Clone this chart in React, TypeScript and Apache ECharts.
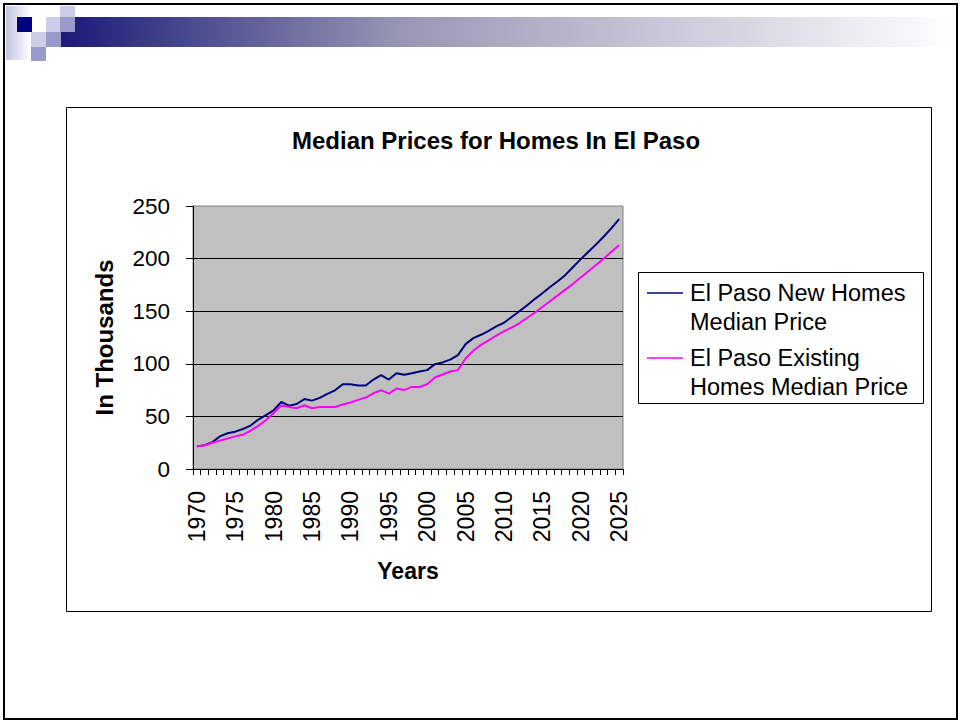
import React, { useEffect, useRef } from "react";
import * as echarts from "echarts";

const years = [
  "1970", "1971", "1972", "1973", "1974", "1975", "1976", "1977", "1978", "1979",
  "1980", "1981", "1982", "1983", "1984", "1985", "1986", "1987", "1988", "1989",
  "1990", "1991", "1992", "1993", "1994", "1995", "1996", "1997", "1998", "1999",
  "2000", "2001", "2002", "2003", "2004", "2005", "2006", "2007", "2008", "2009",
  "2010", "2011", "2012", "2013", "2014", "2015", "2016", "2017", "2018", "2019",
  "2020", "2021", "2022", "2023", "2024", "2025",
];

const newHomes = [
  21.5, 22.7, 25.4, 31, 34, 35.5, 38, 41.3, 47, 51.3,
  55.8, 63.7, 60.2, 61.8, 66.5, 65, 67.6, 71.4, 74.8, 80.6,
  80.6, 79.4, 79.4, 85, 89.2, 85, 91, 89.5, 91, 92.7,
  94, 99.7, 101.3, 104, 108.3, 118.7, 124.4, 127.6, 131.4, 135.6,
  139, 144.5, 150, 155.5, 161.5, 167, 173, 178.5, 184.5, 192,
  199.5, 206.5, 213.5, 221, 229, 237.5,
];

const existingHomes = [
  21.5, 22.4, 25, 27, 29, 31, 32.5, 36.5, 41, 46.3,
  53.3, 60.3, 59, 57.8, 60.6, 57.8, 59, 59, 59, 61.3,
  63.2, 65.7, 67.9, 72, 75, 71.7, 76.5, 75, 78, 78,
  80.6, 87, 89.8, 92.7, 94, 105, 112.4, 118, 122.2, 126.7,
  130.8, 134.5, 138.5, 143.5, 148.5, 154, 159.5, 165, 170.5, 176,
  182, 188, 194, 200, 206.5, 213,
];

const seriesNames = ["El Paso New Homes Median Price", "El Paso Existing Homes Median Price"];
const legendTexts = ["El Paso New Homes\nMedian Price", "El Paso Existing\nHomes Median Price"];
const seriesColors = ["#000080", "#FF00FF"];

const titleText = "Median Prices for Homes In El Paso";
const yAxisName = "In Thousands";
const xAxisName = "Years";
const yMin = 0;
const yMax = 250;
const yStep = 50;

const FONT = "'Liberation Sans', Arial, sans-serif";

export default function App() {
  const ref = useRef<HTMLDivElement>(null);

  useEffect(() => {
    if (!ref.current) return;
    const chart = echarts.init(ref.current, null, { renderer: "svg" });

    const light = "#CCCCE6";
    const medium = "#9999CC";

    const graphic: any[] = [
      {
        type: "rect",
        silent: true,
        shape: { x: 4, y: 4, width: 953, height: 715 },
        style: { fill: "none", stroke: "#000", lineWidth: 2 },
        z: 10,
      },
      {
        type: "rect",
        silent: true,
        shape: { x: 6, y: 6, width: 25, height: 54 },
        style: {
          fill: new echarts.graphic.LinearGradient(0, 0, 1, 0, [
            { offset: 0, color: "#C4C4E2" },
            { offset: 1, color: "#FFFFFF" },
          ]),
        },
      },
      {
        type: "rect",
        silent: true,
        shape: { x: 61, y: 17, width: 895, height: 30 },
        style: {
          fill: new echarts.graphic.LinearGradient(0, 0, 1, 0, [
            { offset: 0, color: "#1A1A78" },
            { offset: 0.38, color: "#9797B5" },
            { offset: 1, color: "#FFFFFF" },
          ]),
        },
      },
      { type: "rect", silent: true, shape: { x: 17, y: 17, width: 15, height: 15 }, style: { fill: "#000080" } },
      { type: "rect", silent: true, shape: { x: 46, y: 17, width: 15, height: 15 }, style: { fill: light } },
      { type: "rect", silent: true, shape: { x: 60, y: 6, width: 15, height: 11 }, style: { fill: light } },
      { type: "rect", silent: true, shape: { x: 60, y: 17, width: 15, height: 15 }, style: { fill: medium } },
      { type: "rect", silent: true, shape: { x: 31, y: 32, width: 15, height: 15 }, style: { fill: light } },
      { type: "rect", silent: true, shape: { x: 46, y: 32, width: 15, height: 15 }, style: { fill: medium } },
      { type: "rect", silent: true, shape: { x: 31, y: 47, width: 15, height: 14 }, style: { fill: medium } },
      {
        type: "rect",
        silent: true,
        shape: { x: 66.5, y: 107.5, width: 865, height: 504 },
        style: { fill: "none", stroke: "#000", lineWidth: 1 },
      },
      {
        type: "rect",
        silent: true,
        shape: { x: 638.5, y: 272.5, width: 285, height: 131 },
        style: { fill: "#fff", stroke: "#000", lineWidth: 1 },
        z: 5,
      },
    ];

    const legendY = [293, 358];
    legendTexts.forEach((t, i) => {
      graphic.push({
        type: "line",
        silent: true,
        z: 6,
        shape: { x1: 647, y1: legendY[i], x2: 683, y2: legendY[i] },
        style: { stroke: seriesColors[i], lineWidth: 1.5 },
      });
      graphic.push({
        type: "text",
        silent: true,
        z: 6,
        x: 690,
        y: legendY[i] - 14.5,
        style: {
          text: t,
          fill: "#000",
          fontSize: 23.5,
          fontFamily: FONT,
          lineHeight: 29,
          verticalAlign: "top",
          align: "left",
        },
      });
    });

    chart.setOption({
      animation: false,
      backgroundColor: "#fff",
      title: {
        text: titleText,
        left: 292,
        top: 128,
        padding: 0,
        textStyle: { fontFamily: FONT, fontSize: 24, fontWeight: "bold", color: "#000" },
      },
      grid: {
        left: 193,
        top: 206,
        width: 430,
        height: 263,
        show: true,
        backgroundColor: "#C0C0C0",
        borderColor: "#808080",
        borderWidth: 1,
        containLabel: false,
      },
      xAxis: {
        type: "category",
        data: years,
        boundaryGap: true,
        name: xAxisName,
        nameLocation: "middle",
        nameGap: 90,
        nameTextStyle: { fontFamily: FONT, fontSize: 23, fontWeight: "bold", color: "#000" },
        axisLine: { show: true, lineStyle: { color: "#000", width: 1 } },
        axisTick: { show: true, interval: 0, length: 6, alignWithLabel: false, lineStyle: { color: "#000" } },
        axisLabel: {
          interval: 4,
          rotate: 90,
          margin: 22,
          fontFamily: FONT,
          fontSize: 23,
          color: "#000",
        },
        splitLine: { show: false },
      },
      yAxis: {
        type: "value",
        min: yMin,
        max: yMax,
        interval: yStep,
        name: yAxisName,
        nameLocation: "middle",
        nameRotate: 90,
        nameGap: 77,
        nameTextStyle: { fontFamily: FONT, fontSize: 24, fontWeight: "bold", color: "#000" },
        axisLine: { show: true, lineStyle: { color: "#000", width: 1 } },
        axisTick: { show: true, length: 7, lineStyle: { color: "#000" } },
        axisLabel: { margin: 23, fontFamily: FONT, fontSize: 22.5, color: "#000" },
        splitLine: { show: true, showMaxLine: false, lineStyle: { color: "#000", width: 1 } },
      },
      series: [
        {
          name: seriesNames[0],
          type: "line",
          data: newHomes,
          symbol: "none",
          lineStyle: { color: seriesColors[0], width: 2 },
          itemStyle: { color: seriesColors[0] },
        },
        {
          name: seriesNames[1],
          type: "line",
          data: existingHomes,
          symbol: "none",
          lineStyle: { color: seriesColors[1], width: 2 },
          itemStyle: { color: seriesColors[1] },
        },
      ],
      graphic,
    });

    return () => chart.dispose();
  }, []);

  return (
    <div
      ref={ref}
      style={{ position: "absolute", left: 0, top: 0, width: 961, height: 721, background: "#fff" }}
    />
  );
}
